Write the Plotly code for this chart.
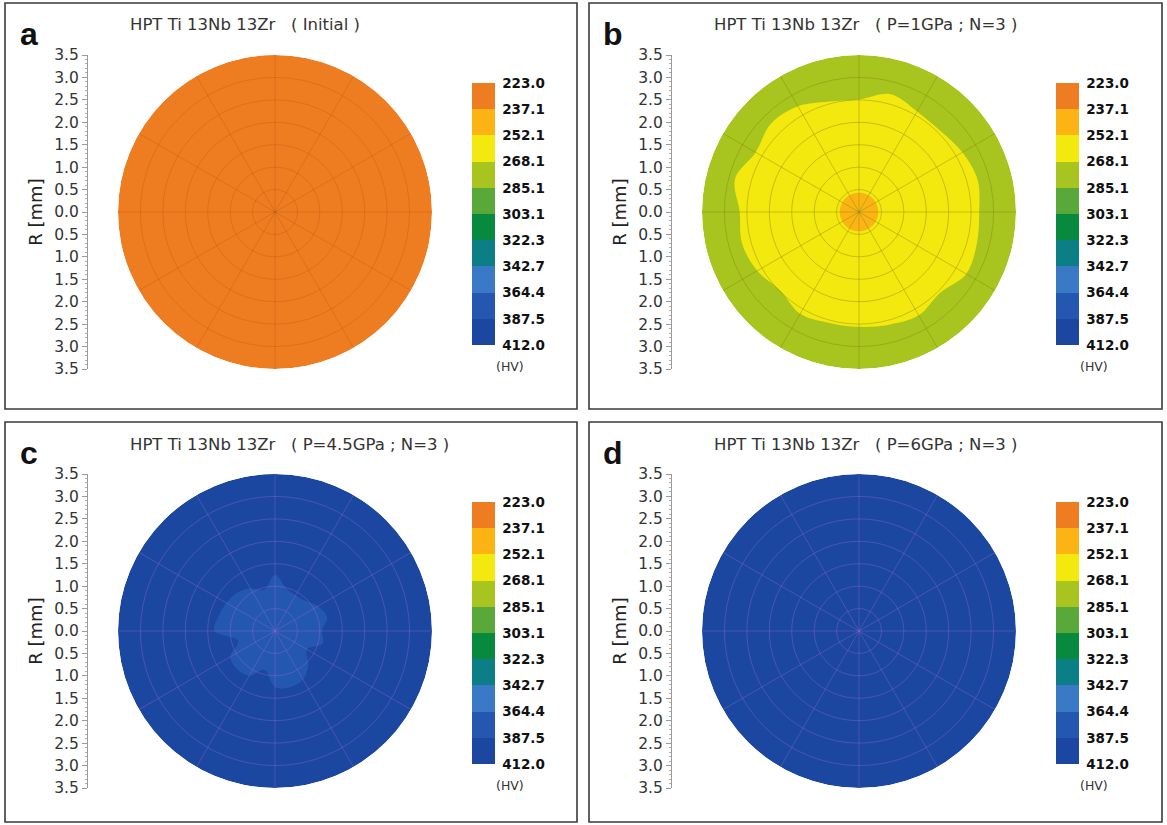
import numpy as np
import plotly.graph_objects as go

W, H = 1167, 825

# ---------------- data ----------------
hv_levels = [223.0, 237.1, 252.1, 268.1, 285.1, 303.1, 322.3, 342.7, 364.4, 387.5, 412.0]
band_colors = ["#EE7D22", "#FCB415", "#F3E90E", "#A8C41E", "#58A93A",
               "#078A3D", "#0C7F86", "#3A79C5", "#2458B0", "#1B47A0"]

panel_letters = ["a", "b", "c", "d"]
panel_titles = ["HPT Ti 13Nb 13Zr   ( Initial )",
                "HPT Ti 13Nb 13Zr   ( P=1GPa ; N=3 )",
                "HPT Ti 13Nb 13Zr   ( P=4.5GPa ; N=3 )",
                "HPT Ti 13Nb 13Zr   ( P=6GPa ; N=3 )"]

disc_radius = 3.5
r_tick_vals = [-3.5, -3.0, -2.5, -2.0, -1.5, -1.0, -0.5, 0.0, 0.5, 1.0, 1.5, 2.0, 2.5, 3.0, 3.5]
r_tick_text = ["3.5", "3.0", "2.5", "2.0", "1.5", "1.0", "0.5", "0.0",
               "0.5", "1.0", "1.5", "2.0", "2.5", "3.0", "3.5"]

# panel a : initial state, uniform
a_hv = 230.0

# panel b : P = 1 GPa
b_outer_hv = 276.0
b_mid_hv = 260.0
b_center_hv = 245.0
b_center_r = 0.43
b_theta = [0, 15, 30, 45, 60, 75, 90, 105, 120, 135, 150, 165,
           180, 195, 210, 225, 240, 255, 270, 285, 300, 315, 330, 345]
b_mid_r = [2.68, 2.74, 2.66, 2.56, 2.59, 2.72, 2.51, 2.55, 2.72, 2.78, 2.66, 2.86,
           2.66, 2.70, 2.62, 2.48, 2.62, 2.56, 2.56, 2.60, 2.66, 2.55, 2.76, 2.72]

# panel c : P = 4.5 GPa
c_outer_hv = 400.0
c_core_hv = 376.0
c_theta = b_theta
c_core_r = [1.05, 1.20, 1.10, 0.95, 0.92, 0.98, 1.25, 0.95, 1.10, 1.20, 1.25, 1.30,
            1.35, 0.85, 1.15, 1.20, 1.15, 0.90, 1.25, 1.30, 1.25, 1.05, 0.82, 1.10]

# panel d : P = 6 GPa, uniform
d_hv = 400.0

# ---------------- helpers ----------------
n_bands = len(band_colors)


def level(hv):
    idx = float(np.interp(hv, hv_levels, list(range(len(hv_levels)))))
    return n_bands - idx  # 223 at top of the colorbar


def band_color(hv):
    idx = float(np.interp(hv, hv_levels, list(range(len(hv_levels)))))
    return band_colors[min(int(idx), n_bands - 1)]


colorscale = []
for j in range(n_bands):
    col = band_colors[n_bands - 1 - j]
    colorscale.append([j / n_bands, col])
    colorscale.append([(j + 1) / n_bands, col])

boxes = [(5, 3, 577, 409), (589, 3, 1162, 409), (5, 422, 577, 822), (589, 422, 1162, 822)]
grid_colors = ["rgba(170,75,10,0.28)", "rgba(130,130,10,0.40)",
               "rgba(160,110,210,0.35)", "rgba(160,110,210,0.35)"]

FONT = "DejaVu Sans"
fig = go.Figure()
layout = dict(width=W, height=H, margin=dict(l=0, r=0, t=0, b=0, pad=0, autoexpand=False),
              paper_bgcolor="white", plot_bgcolor="white", showlegend=False)
shapes, annotations = [], []

panels = [
    dict(outer=a_hv, regions=[]),
    dict(outer=b_outer_hv, regions=[(b_mid_hv, b_theta, b_mid_r), ("circle", b_center_hv, b_center_r)]),
    dict(outer=c_outer_hv, regions=[(c_core_hv, c_theta, c_core_r)]),
    dict(outer=d_hv, regions=[]),
]

for p, (bx, by, bx2, by2) in enumerate(boxes):
    cx, cy, rad = bx + 270, by + 209, 157
    xdom = [(cx - rad) / W, (cx + rad) / W]
    ydom = [1 - (cy + rad) / H, 1 - (cy - rad) / H]
    pid_data = "polar" if p == 0 else f"polar{2 * p + 1}"
    pid_grid = f"polar{2 * p + 2}"

    # outer disc (carries the colour bar)
    fig.add_trace(go.Barpolar(
        r=[disc_radius], theta=[0], width=[360], base=0,
        marker=dict(color=[level(panels[p]["outer"])], colorscale=colorscale, cmin=0, cmax=n_bands,
                    line=dict(width=0), showscale=True,
                    colorbar=dict(x=(bx + 467) / W, xanchor="left",
                                  y=1 - (by + 211) / H, yanchor="middle",
                                  len=262, lenmode="pixels", thickness=23, thicknessmode="pixels",
                                  xpad=0, ypad=0, outlinewidth=0,
                                  tickmode="array",
                                  tickvals=[n_bands - i for i in range(len(hv_levels))],
                                  ticktext=[f"{v:.1f}" for v in hv_levels],
                                  ticks="outside", ticklen=5, tickcolor="rgba(0,0,0,0)",
                                  tickfont=dict(family=FONT, size=13.5, color="#111", weight="bold"))),
        subplot=pid_data, hoverinfo="skip"))

    for reg in panels[p]["regions"]:
        if reg[0] == "circle":
            _, hv, rr = reg
            th = list(np.arange(0, 361, 4))
            fig.add_trace(go.Scatterpolar(r=[rr] * len(th), theta=th, mode="lines", fill="toself",
                                          fillcolor=band_color(hv), line=dict(width=0),
                                          subplot=pid_data, hoverinfo="skip"))
        else:
            hv, th, rr = reg
            fig.add_trace(go.Scatterpolar(r=rr + [rr[0]], theta=th + [th[0]], mode="lines", fill="toself",
                                          fillcolor=band_color(hv),
                                          line=dict(width=0, shape="spline", smoothing=1.0),
                                          subplot=pid_data, hoverinfo="skip"))

    # grid polar on top
    fig.add_trace(go.Scatterpolar(r=[0], theta=[0], mode="markers", marker=dict(opacity=0),
                                  subplot=pid_grid, hoverinfo="skip"))

    common_polar = dict(domain=dict(x=xdom, y=ydom), bgcolor="rgba(0,0,0,0)")
    layout[pid_data] = dict(**common_polar, barmode="overlay",
                            radialaxis=dict(range=[0, disc_radius], visible=False),
                            angularaxis=dict(visible=False))
    layout[pid_grid] = dict(**common_polar,
                            radialaxis=dict(range=[0, disc_radius], dtick=0.5, tick0=0, showticklabels=False,
                                            ticks="", showline=False, gridcolor=grid_colors[p], gridwidth=1),
                            angularaxis=dict(dtick=30, showticklabels=False, ticks="", showline=False,
                                             gridcolor=grid_colors[p], gridwidth=1))

    # R axis on the left
    ax = bx + 83
    xn = "" if p == 0 else str(p + 1)
    fig.add_trace(go.Scatter(x=[None], y=[None], xaxis="x" + xn, yaxis="y" + xn, hoverinfo="skip"))
    layout["xaxis" + xn] = dict(domain=[ax / W, (ax + 20) / W], anchor="y" + xn, visible=False, range=[0, 1])
    layout["yaxis" + xn] = dict(domain=ydom, anchor="x" + xn, range=[-disc_radius, disc_radius],
                                tickmode="array", tickvals=r_tick_vals, ticktext=r_tick_text,
                                showgrid=False, zeroline=False, showline=True, linecolor="#9a9a9a",
                                linewidth=1, ticks="outside", ticklen=5, tickcolor="#9a9a9a",
                                minor=dict(tickmode="linear", tick0=0, dtick=0.1, ticks="outside",
                                           ticklen=2.5, tickcolor="#b0b0b0"),
                                tickfont=dict(family=FONT, size=15.5, color="#333"),
                                title=dict(text="R [mm]", font=dict(family=FONT, size=18, color="#222"),
                                           standoff=6))

    shapes.append(dict(type="rect", xref="paper", yref="paper",
                       x0=bx / W, x1=bx2 / W, y0=1 - by2 / H, y1=1 - by / H,
                       line=dict(color="#3a3a3a", width=1.6)))
    annotations.append(dict(text=panel_letters[p], xref="paper", yref="paper",
                            x=(bx + 24) / W, y=1 - (by + 31) / H, xanchor="center", yanchor="middle",
                            showarrow=False,
                            font=dict(family="Liberation Sans", size=32, color="#111", weight="bold")))
    annotations.append(dict(text=panel_titles[p], xref="paper", yref="paper",
                            x=(bx + 123) / W, y=1 - (by + 22) / H, xanchor="left", yanchor="middle",
                            showarrow=False, font=dict(family=FONT, size=16.5, color="#333")))
    annotations.append(dict(text="(HV)", xref="paper", yref="paper",
                            x=(bx + 505) / W, y=1 - (by + 363) / H, xanchor="center", yanchor="middle",
                            showarrow=False, font=dict(family=FONT, size=12.5, color="#333")))

layout["shapes"] = shapes
layout["annotations"] = annotations
fig.update_layout(**layout)
fig.write_html("out.html", config={"displayModeBar": False, "staticPlot": True},
               post_script="document.body.style.margin='0px';document.body.style.padding='0px';")
